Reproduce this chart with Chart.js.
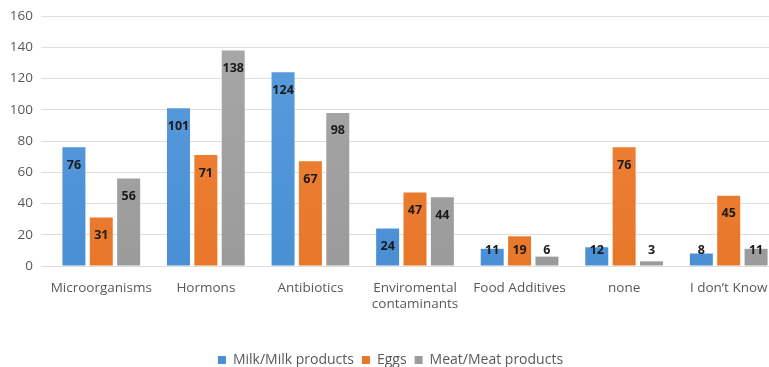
<!DOCTYPE html>
<html>
<head>
<meta charset="utf-8">
<script src="https://cdn.jsdelivr.net/npm/chart.js@4.4.0/dist/chart.umd.min.js"></script>
<style>
  html, body { margin: 0; padding: 0; background: #fff; overflow: hidden; }
  #wrap { position: relative; width: 769px; height: 367px; overflow: hidden; }
</style>
</head>
<body>
<div id="wrap"><canvas id="chart" width="800" height="378"></canvas></div>
<script>
const categories = ["Microorganisms", "Hormons", "Antibiotics", ["Enviromental", "contaminants"], "Food Additives", "none", "I don\u2019t Know"];
const milk = [76, 101, 124, 24, 11, 12, 8];
const eggs = [31, 71, 67, 47, 19, 76, 45];
const meat = [56, 138, 98, 44, 6, 3, 11];
const yTicks = [0, 20, 40, 60, 80, 100, 120, 140, 160];

const font = "'Open Sans', 'Liberation Sans', sans-serif";

// draw the value labels inside the top of each bar (above it when the bar is short)
const barLabels = {
    id: "barLabels",
    afterDatasetsDraw(chart) {
        const ctx = chart.ctx;
        const base = chart.scales.y.getPixelForValue(0);
        ctx.save();
        ctx.font = "bold 12.5px " + font;
        ctx.fillStyle = "#1a1a1a";
        ctx.textAlign = "center";
        ctx.textBaseline = "middle";
        chart.data.datasets.forEach((ds, i) => {
            chart.getDatasetMeta(i).data.forEach((bar, j) => {
                const y = Math.min(bar.y + 18, base - 16);
                ctx.fillText(ds.data[j], bar.x, y);
            });
        });
        ctx.restore();
    }
};

function grad(top, bottom) {
    return (c) => {
        const area = c.chart.chartArea;
        if (!area) return bottom;
        const g = c.chart.ctx.createLinearGradient(0, area.top, 0, area.bottom);
        g.addColorStop(0, top);
        g.addColorStop(1, bottom);
        return g;
    };
}

new Chart(document.getElementById("chart"), {
    type: "bar",
    data: {
        labels: categories,
        datasets: [
            { label: "Milk/Milk products", data: milk, backgroundColor: grad("#5a9ede", "#4a8fd4") },
            { label: "Eggs", data: eggs, backgroundColor: grad("#f0843a", "#e8772a") },
            { label: "Meat/Meat products", data: meat, backgroundColor: grad("#a8a8a8", "#9b9b9b") }
        ]
    },
    options: {
        responsive: false,
        animation: false,
        categoryPercentage: 0.785,
        barPercentage: 0.84,
        layout: { padding: { top: 6, right: 19, bottom: 1, left: 0 } },
        plugins: {
            legend: {
                position: "bottom",
                labels: {
                    boxWidth: 8, boxHeight: 8, padding: 8,
                    color: "#595959",
                    font: { family: font, size: 14 }
                }
            },
            tooltip: { enabled: false }
        },
        scales: {
            x: {
                grid: { display: false },
                border: { display: false },
                ticks: {
                    color: "#595959",
                    font: { family: font, size: 13.5 },
                    maxRotation: 0, autoSkip: false, padding: 6
                },
                afterFit: (s) => { s.height = 79; }
            },
            y: {
                min: 0, max: 160,
                afterBuildTicks: (s) => { s.ticks = yTicks.map(v => ({ value: v })); },
                grid: { color: "#dedede", lineWidth: 1 },
                border: { display: false },
                ticks: {
                    color: "#595959",
                    font: { family: font, size: 13.5 },
                    padding: 8
                },
                afterFit: (s) => { s.width = 49; }
            }
        }
    },
    plugins: [barLabels]
});
</script>
</body>
</html>
